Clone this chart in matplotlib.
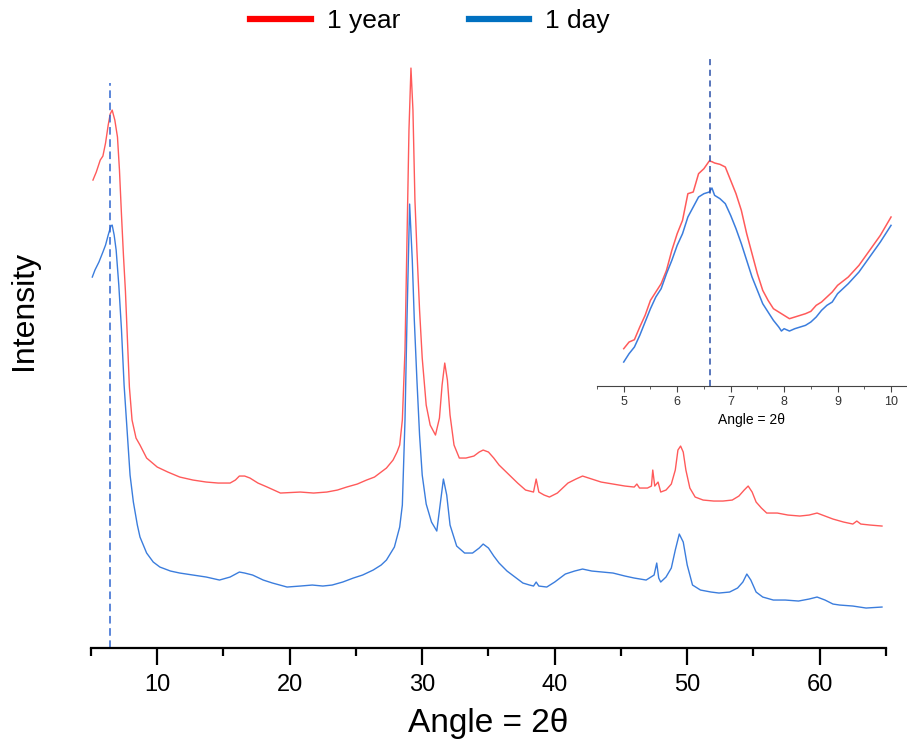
import matplotlib
matplotlib.use('Agg')
import matplotlib.pyplot as plt
from matplotlib.lines import Line2D
from matplotlib.ticker import MultipleLocator

plt.rcParams['font.family'] = ['Liberation Sans', 'DejaVu Sans']

# main pattern, 1 year (angle, intensity in arbitrary units)
year_angle = [5.15, 5.4, 5.7, 5.9, 6.1, 6.3, 6.45, 6.6, 6.8, 7.0, 7.15, 7.3, 7.45, 7.6, 7.75, 7.9,
              8.1, 8.4, 8.7, 9.2, 10.0, 10.8, 11.7, 12.7, 13.7, 14.6, 15.5, 15.9, 16.2, 16.6, 17.0,
              17.6, 18.3, 19.3, 20.8, 21.8, 22.8, 23.6, 24.3, 25.1, 25.8, 26.4, 26.8, 27.3, 27.8,
              28.1, 28.3, 28.5, 28.7, 28.85, 29.0, 29.15, 29.3, 29.45, 29.6, 29.8, 30.0, 30.3, 30.6,
              31.0, 31.3, 31.5, 31.7, 31.9, 32.1, 32.4, 32.8, 33.3, 33.9, 34.3, 34.6, 35.0, 35.4,
              35.8, 36.5, 37.2, 37.8, 38.4, 38.6, 38.8, 39.2, 39.6, 40.2, 41.0, 41.6, 42.1, 42.8,
              43.5, 44.4, 45.3, 46.0, 46.2, 46.4, 47.0, 47.3, 47.4, 47.55, 47.8, 48.0, 48.4, 48.8,
              49.1, 49.3, 49.5, 49.7, 49.9, 50.2, 50.6, 51.2, 52.0, 52.7, 53.4, 53.9, 54.3, 54.6,
              54.9, 55.2, 55.6, 56.0, 56.8, 57.6, 58.5, 59.2, 59.8, 60.4, 61.0, 61.8, 62.5, 62.8,
              63.1, 63.8, 64.7]
year_int = [468, 476, 488, 492, 505, 523, 534, 538, 528, 511, 478, 434, 393, 357, 308, 261,
            228, 210, 203, 190, 181, 176, 171, 168, 166, 165, 165, 168, 172, 172, 170,
            165, 161, 155, 156, 155, 156, 158, 161, 164, 168, 171, 175, 180, 188,
            196, 203, 228, 298, 408, 518, 580, 538, 448, 398, 338, 290, 243, 223,
            213, 230, 263, 285, 268, 233, 203, 190, 190, 192, 196, 198, 196, 190,
            183, 174, 165, 158, 156, 169, 156, 153, 151, 155, 165, 169, 172, 169,
            166, 164, 162, 161, 164, 160, 160, 162, 178, 162, 166, 156, 158, 164,
            178, 198, 202, 196, 178, 160, 151, 148, 147, 147, 148, 152, 158, 162,
            156, 146, 140, 135, 135, 133, 132, 133, 135, 132, 129, 126, 124, 127,
            124, 123, 122]

# main pattern, 1 day
day_angle = [5.1, 5.3, 5.6, 5.9, 6.1, 6.3, 6.5, 6.6, 6.75, 6.9, 7.1, 7.3, 7.5, 7.7, 7.95, 8.2,
             8.5, 8.7, 9.2, 9.7, 10.2, 11.0, 11.7, 12.7, 13.7, 14.7, 15.5, 16.2, 16.6, 17.2,
             18.0, 18.7, 19.8, 20.8, 21.7, 22.5, 23.2, 24.0, 24.8, 25.5, 26.3, 26.9, 27.3, 27.9,
             28.3, 28.5, 28.7, 28.85, 29.05, 29.25, 29.4, 29.6, 29.8, 30.0, 30.3, 30.7, 31.1,
             31.35, 31.6, 31.85, 32.1, 32.6, 33.2, 33.8, 34.3, 34.6, 35.0, 35.4, 35.8, 36.4,
             37.0, 37.6, 38.1, 38.4, 38.6, 38.8, 39.4, 40.0, 40.8, 41.5, 42.1, 42.8, 43.6, 44.4,
             45.3, 46.0, 46.9, 47.5, 47.7, 47.85, 48.0, 48.4, 48.8, 49.1, 49.4, 49.7, 50.0, 50.4,
             51.0, 51.8, 52.4, 53.2, 53.8, 54.2, 54.5, 54.8, 55.2, 55.7, 56.5, 57.4, 58.4, 59.2,
             59.8, 60.4, 61.0, 61.5, 62.5, 63.5, 64.7]
day_int = [371, 378, 386, 396, 403, 413, 422, 423, 413, 398, 363, 319, 263, 223, 173, 146,
           123, 111, 95, 86, 81, 77, 75, 73, 71, 68, 71, 76, 75, 73,
           68, 65, 61, 62, 63, 62, 63, 66, 70, 73, 78, 83, 88, 101,
           121, 143, 228, 328, 444, 388, 329, 268, 213, 173, 144, 126, 117,
           143, 169, 153, 123, 102, 95, 95, 100, 104, 100, 92, 85, 77,
           71, 65, 63, 62, 66, 62, 61, 66, 74, 77, 79, 77, 76, 75,
           72, 70, 68, 73, 85, 70, 66, 71, 80, 98, 114, 106, 83, 63,
           58, 56, 55, 56, 60, 66, 74, 68, 56, 51, 48, 48, 47, 49,
           51, 48, 44, 43, 42, 40, 41]

# inset, 5-10 degrees
inset_angle = [5.0, 5.1, 5.2, 5.3, 5.4, 5.5, 5.6, 5.7, 5.8, 5.9, 6.0, 6.1, 6.2, 6.3, 6.4, 6.5,
               6.6, 6.65, 6.7, 6.8, 6.9, 7.0, 7.1, 7.2, 7.3, 7.4, 7.5, 7.6, 7.7, 7.8, 7.9, 7.95,
               8.0, 8.1, 8.2, 8.3, 8.4, 8.5, 8.6, 8.7, 8.8, 8.9, 9.0, 9.2, 9.4, 9.6, 9.8, 10.0]
inset_year = [112, 132, 139, 177, 212, 257, 282, 307, 347, 407, 457, 497, 577, 582, 637, 652,
              675, 673, 669, 665, 657, 617, 577, 527, 457, 397, 337, 287, 257, 232, 222, 217,
              212, 202, 207, 212, 217, 224, 242, 252, 267, 282, 302, 327, 362, 407, 452, 507]
inset_day = [72, 97, 117, 152, 192, 232, 267, 292, 337, 377, 422, 457, 507, 537, 567, 577,
             582, 594, 572, 562, 547, 512, 472, 427, 377, 327, 287, 247, 222, 197, 177, 165,
             172, 165, 172, 177, 182, 192, 207, 227, 242, 252, 277, 307, 342, 387, 432, 482]

peak_main = 6.45
peak_inset = 6.61

red = '#ff5a5a'
blue = '#3b7ddd'

fig = plt.figure(figsize=(9.07, 7.49), dpi=100)
ax = fig.add_axes([0.1003, 0.1348, 0.8765, 0.785])

ax.plot(year_angle, year_int, color=red, lw=1.0)
ax.plot(day_angle, day_int, color=blue, lw=1.0)
ax.plot([peak_main, peak_main], [0, 565], color='#2f66d0', lw=1.1, ls=(0, (5, 3)))

ax.set_xlim(5, 65)
ax.set_ylim(0, 588)
for s in ['top', 'right', 'left']:
    ax.spines[s].set_visible(False)
ax.spines['bottom'].set_linewidth(1.6)
ax.set_yticks([])
ax.xaxis.set_major_locator(MultipleLocator(10))
ax.xaxis.set_minor_locator(MultipleLocator(5))
ax.tick_params(axis='x', which='major', length=12, width=1.6, labelsize=17, pad=7)
ax.tick_params(axis='x', which='minor', length=6, width=1.6)
ax.set_xlabel('Angle = 2θ', fontsize=24, labelpad=8)
ax.set_ylabel('Intensity', fontsize=23)
ax.yaxis.set_label_coords(-0.066, 0.575)

# inset
ins = fig.add_axes([0.6582, 0.4846, 0.3407, 0.4393])
ins.plot(inset_angle, inset_year, color=red, lw=1.1)
ins.plot(inset_angle, inset_day, color=blue, lw=1.1)
ins.axvline(peak_inset, color='#2a4fa8', lw=1.1, ls=(0, (4, 3)))
ins.set_xlim(4.5, 10.28)
ins.set_ylim(0, 987)
for s in ['top', 'right', 'left']:
    ins.spines[s].set_visible(False)
ins.spines['bottom'].set_color('#444444')
ins.set_yticks([])
ins.patch.set_alpha(0)
ins.xaxis.set_major_locator(MultipleLocator(1))
ins.xaxis.set_minor_locator(MultipleLocator(0.5))
ins.tick_params(axis='x', which='major', length=4, color='#444444', labelsize=9,
                labelcolor='#333333', pad=3)
ins.tick_params(axis='x', which='minor', length=2.5, color='#444444')
ins.set_xlabel('Angle = 2θ', fontsize=10, labelpad=4)

handles = [Line2D([], [], color='#ff0000', lw=4.5), Line2D([], [], color='#0070c0', lw=4.5)]
fig.legend(handles, ['1 year', '1 day'], loc='center', bbox_to_anchor=(0.474, 0.972), ncol=2,
           frameon=False, fontsize=19, handlelength=2.3, handletextpad=0.6, columnspacing=2.6)

fig.savefig('out.png', dpi=100)
